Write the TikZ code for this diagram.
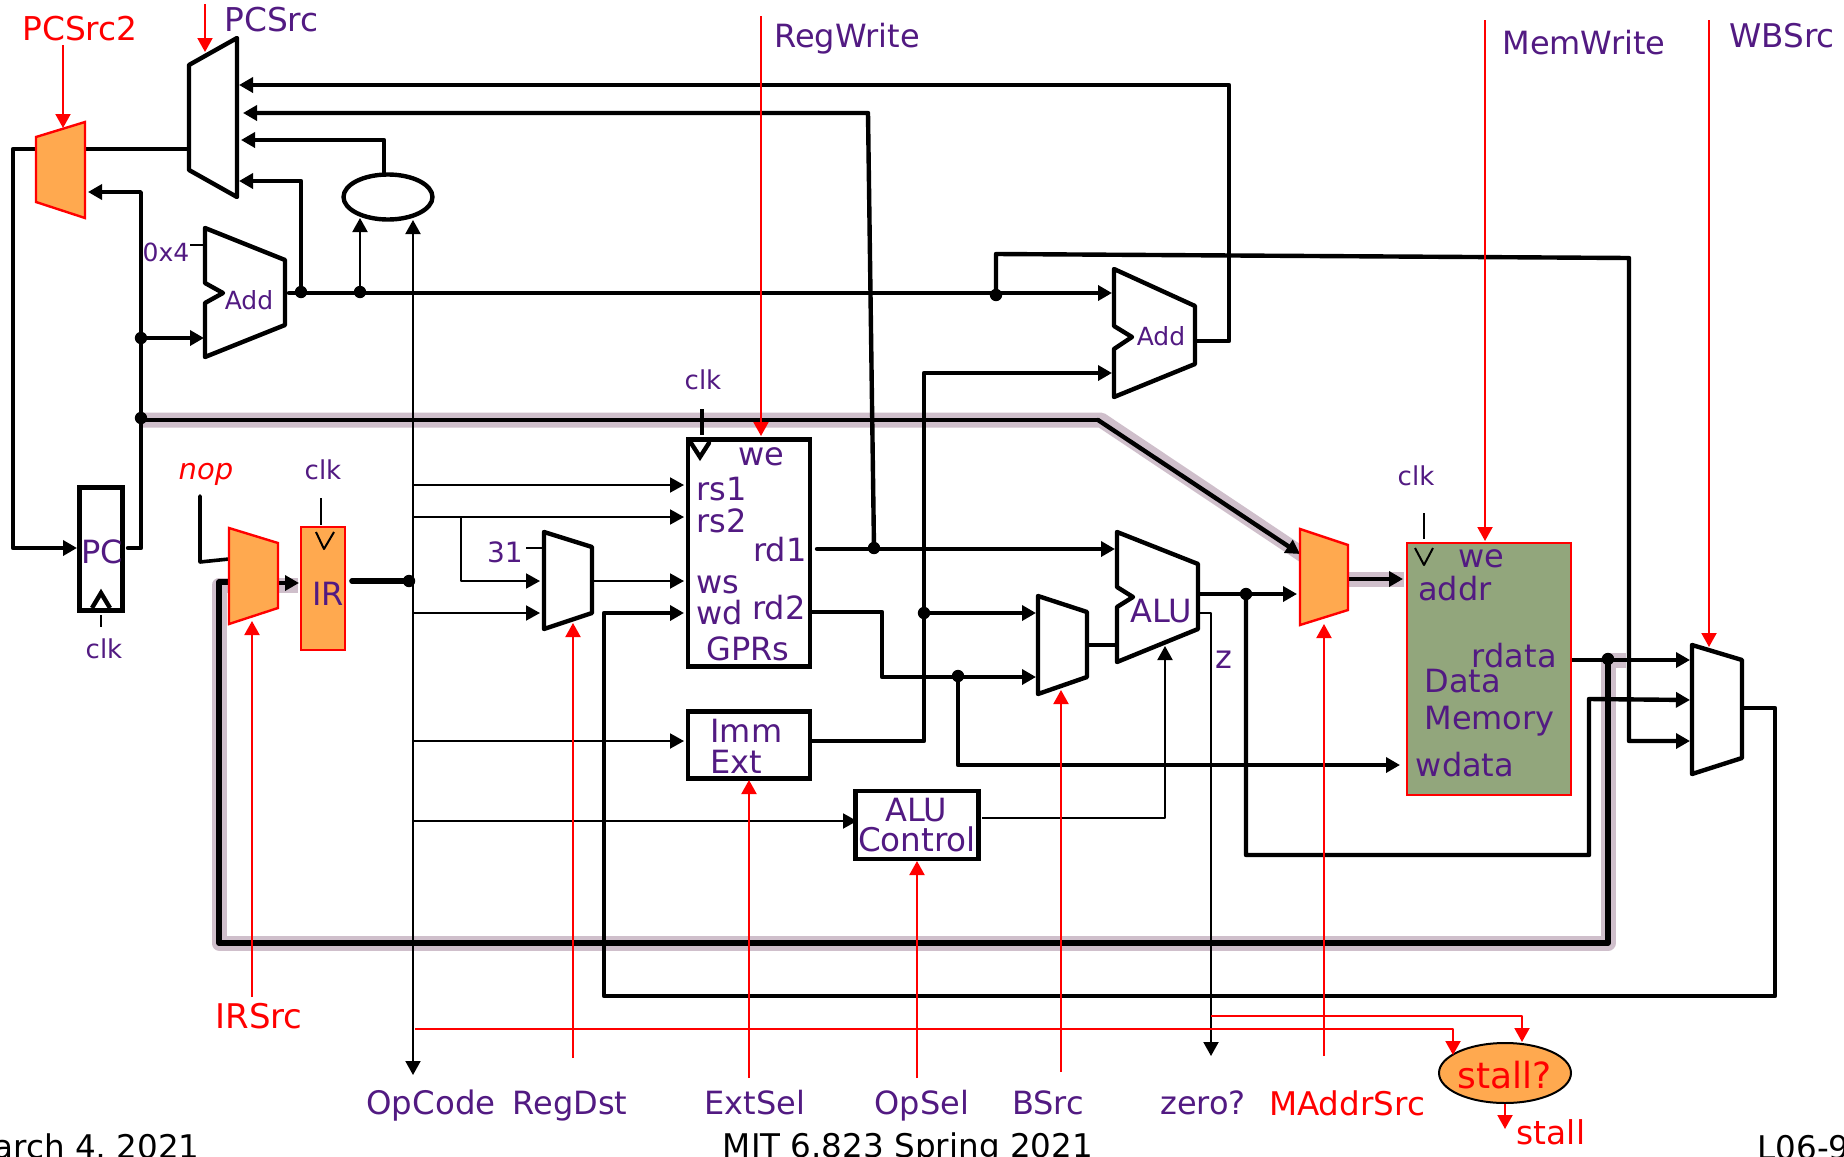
\documentclass[tikz,border=0pt]{standalone}
\usepackage{fontspec}
\setmainfont{DejaVu Sans}
\usetikzlibrary{arrows.meta,shapes.geometric}
\definecolor{pur}{HTML}{521A82}
\definecolor{org}{HTML}{FFA94F}
\definecolor{grn}{HTML}{92A67C}
\definecolor{halo}{HTML}{CFBFCB}
\definecolor{rd}{HTML}{FF0000}
\tikzset{
  tri/.tip={Triangle[length=7pt,width=7.5pt]},
  wire/.style={line width=2.2pt,line join=round,line cap=round},
  fine/.style={line width=1pt,line join=round},
  ctl/.style={line width=1pt,draw=rd,color=rd,line join=round},
  halow/.style={line width=7.5pt,draw=halo,line join=round},
  mux/.style={draw=black,fill=white,line width=2.2pt,line join=round},
  omux/.style={draw=rd,fill=org,line width=1.2pt,line join=miter},
  boxb/.style={draw=black,fill=white,line width=2.2pt,rectangle,inner sep=0pt},
  boxo/.style={draw=rd,line width=1.2pt,rectangle,inner sep=0pt},
  dot/.style={circle,fill=black,inner sep=0pt,minimum size=6.2pt},
  lab/.style={text=pur,inner sep=0pt,font=\fontsize{16}{16}\selectfont},
  sml/.style={text=pur,inner sep=0pt,font=\fontsize{12.5}{13}\selectfont},
  clklab/.style={text=pur,inner sep=0pt,font=\fontsize{13}{13}\selectfont},
  redl/.style={text=rd,inner sep=0pt,font=\fontsize{16}{16}\selectfont},
  foot/.style={text=black,inner sep=0pt,font=\fontsize{16.3}{16}\selectfont},
}
\begin{document}
\begin{tikzpicture}[x=0.5pt,y=-0.5pt]
\useasboundingbox (0,0) rectangle (1844,1157);
\fill[white] (0,0) rectangle (1844,1157);

% junction and pin coordinates
\coordinate (pcsTop) at (205,4);
\coordinate (pcsTip) at (205,52);
\coordinate (pcs2Top) at (63,45);
\coordinate (pcs2Tip) at (63,128);
\coordinate (m2out) at (85,149);
\coordinate (m1in) at (189,149);
\coordinate (m2back) at (36,149);
\coordinate (pcIn) at (77,548);
\coordinate (pcOut) at (128,548);
\coordinate (m2b) at (88,192);
\coordinate (add1a) at (204,338);
\coordinate (m1a) at (239,85);
\coordinate (m1b) at (243,113);
\coordinate (m1c) at (241,140);
\coordinate (m1d) at (239,181);
\coordinate (add1out) at (289,293);
\coordinate (add2a) at (1112,293);
\coordinate (add2b) at (1112,373);
\coordinate (add2out) at (1195,341);
\coordinate (eqTop) at (384,173);
\coordinate (eqA) at (360,218);
\coordinate (eqB) at (413,220);
\coordinate (opEnd) at (413,1075);
\coordinate (rs1) at (684,485);
\coordinate (rs2) at (684,517);
\coordinate (wsP) at (684,581);
\coordinate (wdP) at (684,613);
\coordinate (immIn) at (684,741);
\coordinate (aluCin) at (857,821);
\coordinate (rdA) at (540,581);
\coordinate (rdB) at (540,613);
\coordinate (rdOut) at (592,581);
\coordinate (immOut) at (812,741);
\coordinate (rd1out) at (817,549);
\coordinate (aluA) at (1115,549);
\coordinate (rd2out) at (812,612);
\coordinate (bA) at (1036,613);
\coordinate (bB) at (1036,677);
\coordinate (bOut) at (1087,645);
\coordinate (aluB) at (1116,645);
\coordinate (wdataP) at (1400,765);
\coordinate (aluOut) at (1199,594);
\coordinate (maddrB) at (1297,594);
\coordinate (busStart) at (141,420);
\coordinate (busTip) at (1300,554);
\coordinate (maddrOut) at (1349,579);
\coordinate (addrP) at (1403,579);
\coordinate (rdataOut) at (1572,660);
\coordinate (wbA) at (1690,660);
\coordinate (wbB) at (1690,700);
\coordinate (wbC) at (1690,741);
\coordinate (wbOut) at (1742,708);
\coordinate (irMuxB) at (229,582);
\coordinate (irMuxOut) at (278,583);
\coordinate (irIn) at (299,583);
\coordinate (irOut) at (352,581);
\coordinate (nopEnd) at (200,496);
\coordinate (nopIn) at (229,559);
\coordinate (zOut) at (1199,613);
\coordinate (zEnd) at (1211,1056);
\coordinate (acOut) at (982,818);
\coordinate (aluCtl) at (1165,646);

% halo of the highlighted path
\draw[halow] (141,420) -- (1101,420) -- (1303,555);
\draw[halow] (1626,660) -- (1608,660) -- (1608,943) -- (219,943) -- (219,585) -- (298,585);
\draw[halow] (1349,579) -- (1404,579);

% junction dots
\node[dot] (dAdd) at (141,338) {};
\node[dot] (dBus) at (141,418) {};
\node[dot] (dOut1) at (301,292) {};
\node[dot] (dOut2) at (360,292) {};
\node[dot] (dOut3) at (996,295) {};
\node[dot] (dIR) at (409,581) {};
\node[dot] (dRd1) at (874,548) {};
\node[dot] (dImm) at (924,613) {};
\node[dot] (dRd2) at (958,676) {};
\node[dot] (dAlu) at (1246,594) {};
\node[dot] (dMem) at (1608,659) {};

% thick wires
\draw[wire] (m2out) -- (m1in);
\draw[wire,-tri] (m2back) -- (13,149) -- (13,548) -- (pcIn);
\draw[wire] (pcOut) -- (141,548) -- (dBus.center);
\draw[fine,line width=1.7pt,-tri] (dBus.center) -- (141,192) -- (m2b);
\draw[wire,-tri] (dAdd.center) -- (add1a);
\draw[wire] (busStart) -- (1098,420);
\draw[wire,-tri] (1098,420) -- (busTip);
\draw[wire,-tri] (add2out) -- (1229,341) -- (1229,85) -- (m1a);
\draw[wire,-tri] (dRd1.center) -- (868,113) -- (m1b);
\draw[wire,-tri] (eqTop) -- (384,140) -- (m1c);
\draw[wire,-tri] (dOut1.center) -- (301,181) -- (m1d);
\draw[wire,-tri] (add1out) -- (add2a);
\draw[wire,-tri] (dOut3.center) -- (996,254) -- (1629,258) -- (1629,741) -- (wbC);
\draw[wire,-tri] (immOut) -- (924,741) -- (924,373) -- (add2b);
\draw[wire,-tri] (rd1out) -- (aluA);
\draw[wire,-tri] (dImm.center) -- (bA);
\draw[wire,-tri] (rd2out) -- (882,612) -- (882,677) -- (bB);
\draw[wire,-tri] (dRd2.center) -- (958,765) -- (wdataP);
\draw[wire] (bOut) -- (aluB);
\draw[wire,-tri] (aluOut) -- (maddrB);
\draw[wire,-tri] (dAlu.center) -- (1246,855) -- (1589,855) -- (1589,699) -- (wbB);
\draw[wire,-tri] (maddrOut) -- (addrP);
\draw[wire,-tri] (rdataOut) -- (wbA);
\draw[wire,line width=2.6pt] (dMem.center) -- (1608,943) -- (219,943) -- (219,582) -- (irMuxB);
\draw[wire,-tri] (wbOut) -- (1775,708) -- (1775,996) -- (604,996) -- (604,613) -- (wdP);
\draw[wire,-tri] (irMuxOut) -- (irIn);
\draw[wire,line width=2.8pt] (irOut) -- (dIR.center);
\draw[wire,line width=1.8pt] (nopEnd) -- (200,562) -- (nopIn);

% thin wires
\draw[fine,-tri] (dOut2.center) -- (eqA);
\draw[fine,{tri}-{tri}] (eqB) -- (opEnd);
\draw[fine] (dIR.center) -- (413,581);
\draw[fine,-tri] (413,485) -- (rs1);
\draw[fine,-tri] (413,517) -- (rs2);
\draw[fine,-tri] (461,517) -- (461,581) -- (rdA);
\draw[fine,-tri] (413,613) -- (rdB);
\draw[fine,-tri] (rdOut) -- (wsP);
\draw[fine,-tri] (413,741) -- (immIn);
\draw[fine,-tri] (413,821) -- (aluCin);
\draw[fine,-tri] (zOut) -- (1211,613) -- (zEnd);
\draw[fine,-tri] (acOut) -- (1165,818) -- (aluCtl);

% multiplexers and adders
\draw[mux] (189,65) -- (237,38) -- (237,197) -- (189,170) -- cycle;
\draw[omux] (36,137) -- (85,122) -- (85,218) -- (36,202) -- cycle;
\draw[mux] (205,228) -- (285,260) -- (285,325) -- (205,357) -- (205,303) -- (223,293) -- (205,283) -- cycle;
\draw[mux] (1114,269) -- (1195,306) -- (1195,364) -- (1114,397) -- (1114,349) -- (1132,337) -- (1114,326) -- cycle;
\draw[omux] (229,528) -- (278,543) -- (278,608) -- (229,624) -- cycle;
\draw[mux] (544,532) -- (592,547) -- (592,613) -- (544,629) -- cycle;
\draw[mux] (1117,532) -- (1198,564) -- (1198,629) -- (1117,662) -- (1117,607) -- (1133,597) -- (1117,587) -- cycle;
\draw[mux] (1038,596) -- (1087,612) -- (1087,677) -- (1038,694) -- cycle;
\draw[omux] (1300,529) -- (1348,545) -- (1348,610) -- (1300,625) -- cycle;
\draw[mux] (1692,645) -- (1742,660) -- (1742,758) -- (1692,774) -- cycle;

% boxes
\node[draw=black,line width=2.2pt,ellipse,fill=white,minimum width=44.5pt,minimum height=22.5pt,inner sep=0pt] (eq) at (388,197) {};
\node[boxb,minimum width=21.5pt,minimum height=61.5pt] (pc) at (101,549) {};
\node[boxo,fill=org,minimum width=22pt,minimum height=61.5pt] (ir) at (323,588.5) {};
\node[boxb,minimum width=61pt,minimum height=113.5pt] (gpr) at (749,553) {};
\node[boxb,minimum width=61pt,minimum height=33.5pt] (imm) at (749,745) {};
\node[boxb,minimum width=61.5pt,minimum height=34pt] (aluc) at (917,825) {};
\node[boxo,fill=grn,minimum width=82pt,minimum height=126pt] (mem) at (1489,669) {};
\node[draw=black,line width=1pt,ellipse,fill=org,minimum width=66pt,minimum height=30pt,inner sep=0pt] (stall) at (1505,1073) {};

% clock marks
\coordinate (ck1a) at (101,615); \coordinate (ck1b) at (101,627);
\draw[fine] (ck1a) -- (ck1b);
\draw[wire,line cap=butt,line join=miter] (92,608) -- (101,593) -- (110,608);
\coordinate (ck2a) at (321,498); \coordinate (ck2b) at (321,525);
\draw[fine] (ck2a) -- (ck2b);
\draw[fine] (316,532) -- (324,549) -- (334,532);
\coordinate (ck3a) at (702,409); \coordinate (ck3b) at (702,435);
\draw[wire,line cap=butt] (ck3a) -- (ck3b);
\draw[wire,line join=miter] (691,443) -- (700,457) -- (709,443);
\coordinate (ck4a) at (1424,513); \coordinate (ck4b) at (1424,539);
\draw[fine] (ck4a) -- (ck4b);
\draw[fine] (1415,548) -- (1424,565) -- (1433,548);
\coordinate (k0a) at (190,245); \coordinate (k0b) at (205,245);
\draw[fine] (k0a) -- (k0b);
\coordinate (k31a) at (526,548); \coordinate (k31b) at (543,548);
\draw[fine] (k31a) -- (k31b);

% control wires
\draw[ctl,-tri] (pcsTop) -- (pcsTip);
\draw[ctl,-tri] (pcs2Top) -- (pcs2Tip);
\coordinate (rwTop) at (761,16); \coordinate (rwTip) at (761,436);
\draw[ctl,-tri] (rwTop) -- (rwTip);
\coordinate (mwTop) at (1485,20); \coordinate (mwTip) at (1485,541);
\draw[ctl,-tri] (mwTop) -- (mwTip);
\coordinate (wbTop) at (1709,20); \coordinate (wbTip) at (1709,647);
\draw[ctl,-tri] (wbTop) -- (wbTip);
\coordinate (irsB) at (252,997); \coordinate (irsT) at (252,621);
\draw[ctl,-tri] (irsB) -- (irsT);
\coordinate (rdsB) at (573,1058); \coordinate (rdsT) at (573,623);
\draw[ctl,-tri] (rdsB) -- (rdsT);
\coordinate (extB) at (749,1078); \coordinate (extT) at (749,780);
\draw[ctl,-tri] (extB) -- (extT);
\coordinate (opsB) at (917,1078); \coordinate (opsT) at (917,861);
\draw[ctl,-tri] (opsB) -- (opsT);
\coordinate (bsB) at (1061,1072); \coordinate (bsT) at (1061,690);
\draw[ctl,-tri] (bsB) -- (bsT);
\coordinate (maB) at (1324,1056); \coordinate (maT) at (1324,624);
\draw[ctl,-tri] (maB) -- (maT);
\coordinate (stA) at (415,1029); \coordinate (stATip) at (1453,1055);
\draw[ctl,-tri] (stA) -- (1453,1029) -- (stATip);
\coordinate (stB) at (1211,1016); \coordinate (stBTip) at (1522,1042);
\draw[ctl,-tri] (stB) -- (1522,1016) -- (stBTip);
\coordinate (stOutTip) at (1505,1129);
\draw[ctl,-tri] (stall.south) -- (stOutTip);

% labels
\node[redl,font=\fontsize{16.4}{16}\selectfont] (tPCSrc2) at (80,29) {PCSrc2};
\node[lab,anchor=west,font=\fontsize{16.4}{16}\selectfont] (tPCSrc) at (224,20) {PCSrc};
\node[lab,anchor=west] (tRegWrite) at (774,39) {RegWrite};
\node[lab,anchor=west] (tMemWrite) at (1502,43) {MemWrite};
\node[lab,anchor=west,font=\fontsize{16.3}{16}\selectfont] (tWBSrc) at (1729,36) {WBSrc};
\node[sml] (t0x4) at (166,252) {0x4};
\node[sml] (tAdd1) at (249,300) {Add};
\node[sml] (tAdd2) at (1161,336) {Add};
\node[lab] (tPC) at (102,552) {PC};
\node[lab] (tIR) at (328,594) {IR};
\node[clklab] (tclk1) at (104,649) {clk};
\node[clklab] (tclk2) at (323,470) {clk};
\node[clklab] (tclk3) at (703,380) {clk};
\node[clklab] (tclk4) at (1416,476) {clk};
\node[redl,font=\fontsize{14.5}{15}\selectfont\itshape] (tnop) at (206,474) {nop};
\node[sml,font=\fontsize{14}{15}\selectfont] (t31) at (505,552) {31};
\node[lab] (twe1) at (761,457) {we};
\node[lab,anchor=west] (trs1) at (696,489) {rs1};
\node[lab,anchor=west] (trs2) at (696,521) {rs2};
\node[lab,anchor=east] (trd1) at (807,550) {rd1};
\node[lab,anchor=west] (tws) at (696,585) {ws};
\node[lab,anchor=west] (twd) at (696,613) {wd};
\node[lab,anchor=east] (trd2) at (806,608) {rd2};
\node[lab] (tGPRs) at (748,649) {GPRs};
\node[lab,anchor=west] (tImm) at (710,731) {Imm};
\node[lab,anchor=west] (tExt) at (710,762) {Ext};
\node[lab] (tALUc) at (916,810) {ALU};
\node[lab,font=\fontsize{16.3}{16}\selectfont] (tCtl) at (917,839) {Control};
\node[lab] (tALU) at (1161,611) {ALU};
\node[lab] (tz) at (1224,660) {z};
\node[lab] (twe2) at (1481,559) {we};
\node[lab] (taddr) at (1455,589) {addr};
\node[lab,anchor=east] (trdata) at (1557,656) {rdata};
\node[lab,anchor=west] (tData) at (1424,681) {Data};
\node[lab,anchor=west] (tMemory) at (1424,721) {Memory};
\node[lab] (twdata) at (1465,765) {wdata};
\node[redl,font=\fontsize{17}{17}\selectfont] (tIRSrc) at (259,1016) {IRSrc};
\node[lab,font=\fontsize{16.2}{16}\selectfont] (tOpCode) at (431,1106) {OpCode};
\node[lab] (tRegDst) at (570,1106) {RegDst};
\node[lab] (tExtSel) at (755,1103) {ExtSel};
\node[lab] (tOpSel) at (922,1106) {OpSel};
\node[lab] (tBSrc) at (1048,1103) {BSrc};
\node[lab] (tzero) at (1203,1103) {zero?};
\node[redl,font=\fontsize{16.3}{16}\selectfont] (tMAddr) at (1347,1103) {MAddrSrc};
\node[redl,font=\fontsize{18}{18}\selectfont] (tstallq) at (1505,1075) {stall?};
\node[redl,font=\fontsize{16.4}{16}\selectfont] (tstall) at (1551,1132) {stall};
\node[foot,anchor=east] (fL) at (200,1148) {March 4, 2021};
\node[foot,anchor=center] (fC) at (908,1148) {MIT 6.823 Spring 2021};
\node[foot,anchor=west] (fR) at (1757,1148) {L06-9};
\end{tikzpicture}
\end{document}
